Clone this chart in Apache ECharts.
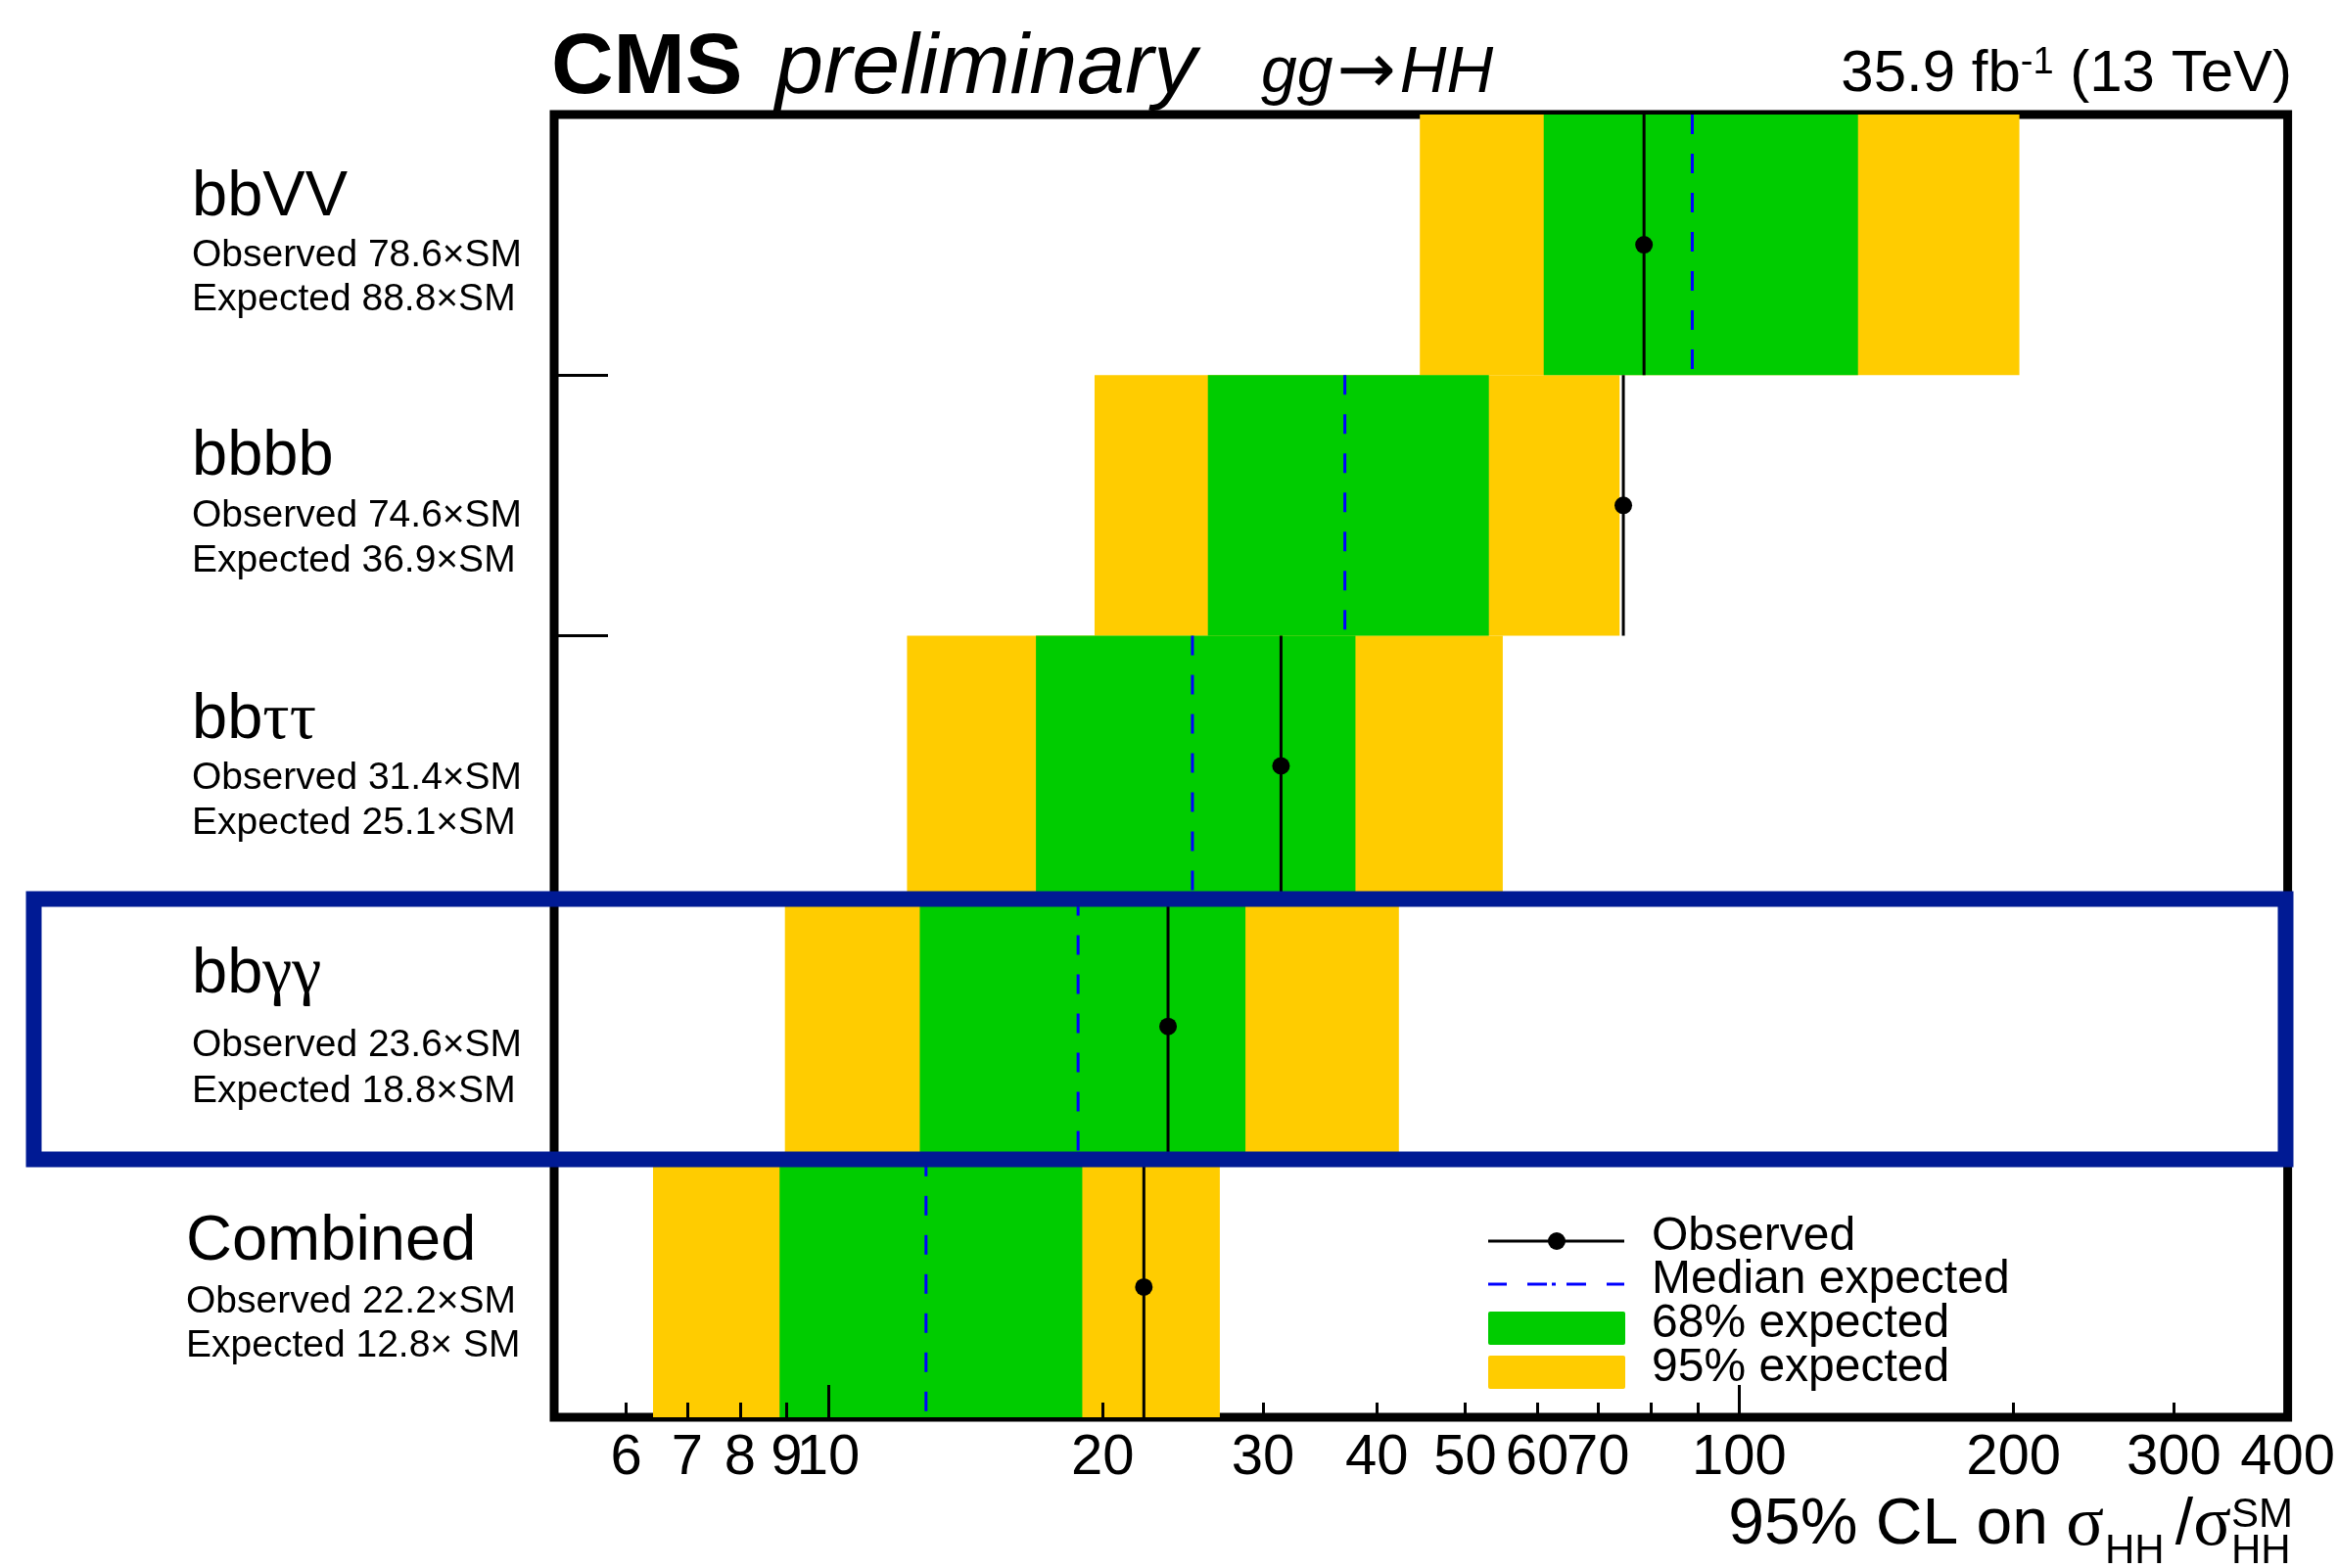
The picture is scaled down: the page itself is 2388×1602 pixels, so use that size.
<!DOCTYPE html>
<html>
<head>
<meta charset="utf-8">
<script src="https://cdn.jsdelivr.net/npm/echarts@6/dist/echarts.min.js"></script>
<style>
html,body{margin:0;padding:0;background:#ffffff;}
#chart{width:2388px;height:1602px;}
</style>
</head>
<body>
<div id="chart"></div>
<script>
// ---------------- data ----------------
const categories = ['bbVV', 'bbbb', 'bbττ', 'bbγγ', 'Combined'];
const observed   = [78.6, 74.6, 31.4, 23.6, 22.2];
const expected   = [88.8, 36.9, 25.1, 18.8, 12.8];
const band68Low  = [61.0, 26.1, 16.9, 12.6, 8.84];
const band68High = [135, 53.1, 37.9, 28.7, 19.0];
const band95Low  = [44.6, 19.6, 12.2, 8.96, 6.42];
const band95High = [203, 73.9, 55.0, 42.3, 26.9];
const majorTicks = [10, 100];
const minorTicks = [6, 7, 8, 9, 20, 30, 40, 50, 60, 70, 80, 90, 200, 300];
const tickLabels = [6, 7, 8, 9, 10, 20, 30, 40, 50, 60, 70, 100, 200, 300, 400];
const obsText = ['Observed 78.6×SM', 'Observed 74.6×SM', 'Observed 31.4×SM', 'Observed 23.6×SM', 'Observed 22.2×SM'];
const expText = ['Expected 88.8×SM', 'Expected 36.9×SM', 'Expected 25.1×SM', 'Expected 18.8×SM', 'Expected 12.8× SM'];

// ---------------- style ----------------
const SANS = '"Liberation Sans", Arial, Helvetica, sans-serif';
const SERIF = '"Liberation Serif", "DejaVu Serif", serif';
const YELLOW = '#ffcc00';
const GREEN = '#00cc00';
const BLUE = '#0000ff';
const NAVY = '#001a94';

const chart = echarts.init(document.getElementById('chart'), null, {renderer: 'canvas'});

function bandRenderer(color) {
  return function (params, api) {
    const y = api.value(2);
    const p0 = api.coord([api.value(0), y]);
    const p1 = api.coord([api.value(1), y]);
    const h = api.size([1, 1], [10, y])[1];
    return {
      type: 'rect',
      shape: {x: p0[0], y: p0[1] - h / 2, width: p1[0] - p0[0], height: h},
      style: {fill: color}
    };
  };
}

function expRenderer(params, api) {
  const y = api.value(1);
  const p = api.coord([api.value(0), y]);
  const h = api.size([1, 1], [10, y])[1];
  return {
    type: 'line',
    shape: {x1: p[0], y1: p[1] - h / 2, x2: p[0], y2: p[1] + h / 2},
    style: {stroke: BLUE, lineWidth: 3, lineDash: [20, 20]}
  };
}

function obsRenderer(params, api) {
  const y = api.value(1);
  const p = api.coord([api.value(0), y]);
  const h = api.size([1, 1], [10, y])[1];
  return {
    type: 'group',
    children: [
      {type: 'line', shape: {x1: p[0], y1: p[1] - h / 2, x2: p[0], y2: p[1] + h / 2},
       style: {stroke: '#000', lineWidth: 3}},
      {type: 'circle', shape: {cx: p[0], cy: p[1], r: 9}, style: {fill: '#000'}}
    ]
  };
}

// text layout (pixel positions of the row annotations)
const titleX = [196, 196, 196, 196, 190];
const titleY = [202, 467, 736, 996, 1269];
const obsY = [261, 527, 795, 1068, 1330];
const expY = [306, 573, 841, 1115, 1375];
const subX = [196, 196, 196, 196, 190];

const graphics = [];
categories.forEach(function (c, i) {
  let rich = {a: {fontFamily: SANS, fontSize: 65, fill: '#000'}, g: {fontFamily: SERIF, fontSize: 68, fill: '#000'}};
  let txt;
  if (c === 'bbττ') txt = '{a|bb}{g|ττ}';
  else if (c === 'bbγγ') txt = '{a|bb}{g|γγ}';
  else txt = '{a|' + c + '}';
  graphics.push({type: 'text', x: titleX[i], y: titleY[i], z: 50,
    style: {text: txt, rich: rich, align: 'left', verticalAlign: 'middle'}});
  graphics.push({type: 'text', x: subX[i], y: obsY[i], z: 50,
    style: {text: obsText[i], font: '39px ' + SANS, fill: '#000', align: 'left', verticalAlign: 'middle'}});
  graphics.push({type: 'text', x: subX[i], y: expY[i], z: 50,
    style: {text: expText[i], font: '39px ' + SANS, fill: '#000', align: 'left', verticalAlign: 'middle'}});
});

// header
graphics.push({type: 'text', x: 563, y: 71, z: 50,
  style: {text: 'CMS', font: 'bold 88px ' + SANS, fill: '#000', align: 'left', verticalAlign: 'middle'}});
graphics.push({type: 'text', x: 792, y: 71, z: 50,
  style: {text: 'preliminary', font: 'italic 88px ' + SANS, fill: '#000', align: 'left', verticalAlign: 'middle'}});
graphics.push({type: 'text', x: 1288, y: 76, z: 50,
  style: {text: '{a|gg}{r|→}{a|HH}', align: 'left', verticalAlign: 'middle',
    rich: {a: {fontFamily: SANS, fontStyle: 'italic', fontSize: 66, fill: '#000'},
           r: {fontFamily: '"DejaVu Sans", sans-serif', fontSize: 72, fill: '#000', padding: [0, 4, 0, 4]}}}});
graphics.push({type: 'text', x: 2341, y: 76, z: 50,
  style: {text: '{a|35.9 fb}{s|-1}{a| (13 TeV)}', align: 'right', verticalAlign: 'middle',
    rich: {a: {fontFamily: SANS, fontSize: 60, fill: '#000'},
           s: {fontFamily: SANS, fontSize: 38, fill: '#000', verticalAlign: 'top'}}}});

// x-axis title
graphics.push({type: 'text', x: 2149, y: 1559, z: 50,
  style: {text: '{a|95% CL on }{g|σ}', align: 'right', verticalAlign: 'middle',
    rich: {a: {fontFamily: SANS, fontSize: 66, fill: '#000'}, g: {fontFamily: SERIF, fontSize: 72, fill: '#000'}}}});
graphics.push({type: 'text', x: 2150, y: 1585, z: 50,
  style: {text: 'HH', font: '42px ' + SANS, fill: '#000', align: 'left', verticalAlign: 'middle'}});
graphics.push({type: 'text', x: 2279, y: 1559, z: 50,
  style: {text: '{a|/}{g|σ}', align: 'right', verticalAlign: 'middle',
    rich: {a: {fontFamily: SANS, fontSize: 66, fill: '#000'}, g: {fontFamily: SERIF, fontSize: 72, fill: '#000'}}}});
graphics.push({type: 'text', x: 2279, y: 1548, z: 50,
  style: {text: 'SM', font: '42px ' + SANS, fill: '#000', align: 'left', verticalAlign: 'middle'}});
graphics.push({type: 'text', x: 2279, y: 1585, z: 50,
  style: {text: 'HH', font: '42px ' + SANS, fill: '#000', align: 'left', verticalAlign: 'middle'}});

// legend
graphics.push({type: 'line', z: 50, shape: {x1: 1520, y1: 1268, x2: 1659, y2: 1268}, style: {stroke: '#000', lineWidth: 3}});
graphics.push({type: 'circle', z: 51, shape: {cx: 1590, cy: 1268, r: 9}, style: {fill: '#000'}});
graphics.push({type: 'line', z: 50, shape: {x1: 1520, y1: 1312, x2: 1659, y2: 1312},
  style: {stroke: BLUE, lineWidth: 3, lineDash: [19, 21, 20, 5, 4, 11, 20, 21, 19, 60]}});
graphics.push({type: 'rect', z: 50, shape: {x: 1520, y: 1340, width: 140, height: 34, r: 2}, style: {fill: GREEN}});
graphics.push({type: 'rect', z: 50, shape: {x: 1520, y: 1385, width: 140, height: 34, r: 2}, style: {fill: YELLOW}});
const legTexts = ['Observed', 'Median expected', '68% expected', '95% expected'];
const legY = [1264, 1308, 1353, 1398];
legTexts.forEach(function (t, i) {
  graphics.push({type: 'text', x: 1687, y: legY[i], z: 50,
    style: {text: t, font: '48px ' + SANS, fill: '#000', align: 'left', verticalAlign: 'middle'}});
});

// highlight box around bbγγ row
graphics.push({type: 'rect', z: 100, shape: {x: 34.5, y: 918.5, width: 2300, height: 266},
  style: {fill: null, stroke: NAVY, lineWidth: 16}});

const option = {
  backgroundColor: '#ffffff',
  animation: false,
  grid: {left: 566, right: 50, top: 117, bottom: 154, show: true,
         borderColor: '#000', borderWidth: 9, backgroundColor: 'transparent'},
  xAxis: [
    {type: 'log', logBase: 10, min: 5, max: 400, position: 'bottom', z: 10,
     axisLine: {show: false}, splitLine: {show: false},
     axisTick: {show: true, inside: true, length: 33, customValues: majorTicks, lineStyle: {color: '#000', width: 3}},
     axisLabel: {show: false}},
    {type: 'log', logBase: 10, min: 5, max: 400, position: 'bottom', z: 10,
     axisLine: {show: false}, splitLine: {show: false},
     axisTick: {show: true, inside: true, length: 15, customValues: minorTicks, lineStyle: {color: '#000', width: 3}},
     axisLabel: {show: true, customValues: tickLabels, margin: 13, color: '#000',
                 fontFamily: SANS, fontSize: 58, lineHeight: 58}}
  ],
  yAxis: {type: 'category', data: categories, inverse: true,
    axisLine: {show: false}, splitLine: {show: false}, axisLabel: {show: false},
    axisTick: {show: true, inside: true, length: 55, interval: 0, lineStyle: {color: '#000', width: 3}}},
  series: [
    {type: 'custom', name: '95% expected', xAxisIndex: 0, yAxisIndex: 0, z: 2,
     renderItem: bandRenderer(YELLOW), encode: {x: [0, 1], y: 2},
     data: categories.map(function (c, i) { return [band95Low[i], band95High[i], i]; })},
    {type: 'custom', name: '68% expected', xAxisIndex: 0, yAxisIndex: 0, z: 3,
     renderItem: bandRenderer(GREEN), encode: {x: [0, 1], y: 2},
     data: categories.map(function (c, i) { return [band68Low[i], band68High[i], i]; })},
    {type: 'custom', name: 'Median expected', xAxisIndex: 0, yAxisIndex: 0, z: 4,
     renderItem: expRenderer, encode: {x: 0, y: 1},
     data: categories.map(function (c, i) { return [expected[i], i]; })},
    {type: 'custom', name: 'Observed', xAxisIndex: 0, yAxisIndex: 0, z: 5,
     renderItem: obsRenderer, encode: {x: 0, y: 1},
     data: categories.map(function (c, i) { return [observed[i], i]; })}
  ],
  graphic: graphics
};
chart.setOption(option);
</script>
</body>
</html>
